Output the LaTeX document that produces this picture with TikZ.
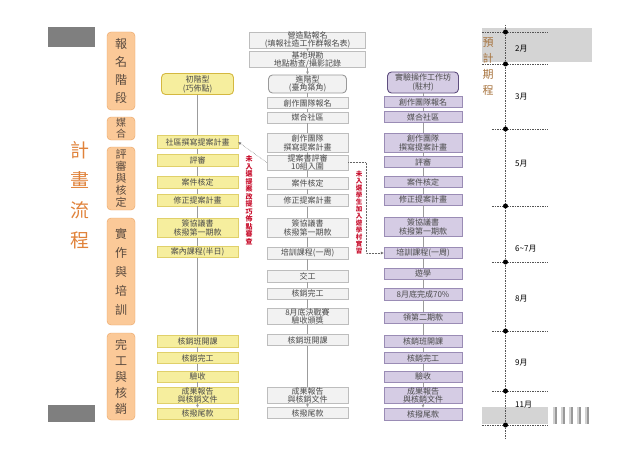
\documentclass[tikz,border=0pt]{standalone}
\usepackage{fontspec}
\setmainfont{Noto Sans CJK TC}
\usepackage{xcolor}
\usepackage{tikz}
\usetikzlibrary{arrows.meta}
\definecolor{ylwfill}{HTML}{F6EE9E}
\definecolor{ylwedge}{HTML}{E0D06A}
\definecolor{ylwhead}{HTML}{D4B840}
\definecolor{gryfill}{HTML}{F2F2F2}
\definecolor{gryedge}{HTML}{BDBDBD}
\definecolor{gryhead}{HTML}{9A9A9A}
\definecolor{prpfill}{HTML}{D5CCE4}
\definecolor{prpedge}{HTML}{9A8CB5}
\definecolor{prphead}{HTML}{5E4E7E}
\definecolor{stgfill}{HTML}{FBC998}
\definecolor{stgedge}{HTML}{E9A262}
\definecolor{stagetext}{HTML}{5A4A3E}
\definecolor{flowtitle}{HTML}{E0823A}
\definecolor{plantitle}{HTML}{A6723C}
\definecolor{boxtext}{HTML}{4A4A4A}
\definecolor{redtext}{HTML}{C8102E}
\definecolor{linkgray}{HTML}{9C9C9C}
\definecolor{bandgray}{HTML}{D4D4D4}
\definecolor{blockgray}{HTML}{7F7F7F}
\definecolor{timegray}{HTML}{555555}

\begin{document}
\begin{tikzpicture}[x=1pt, y=-1pt,
  ybox/.style={draw=ylwedge, fill=ylwfill, minimum width=81pt, minimum height=12pt, inner sep=0pt, align=center, text=boxtext, font=\fontsize{8}{9}\selectfont},
  gbox/.style={ybox, draw=gryedge, fill=gryfill},
  pbox/.style={ybox, draw=prpedge, fill=prpfill, minimum width=78pt},
  twoline/.style={minimum height=19pt},
  headbox/.style={rounded corners=4pt, line width=0.9pt, minimum height=21pt},
  stage/.style={draw=stgedge, fill=stgfill, rounded corners=4pt, minimum width=28pt, inner sep=0pt, align=center, text=stagetext},
  link/.style={draw=linkgray, line width=0.6pt},
  tip/.style={link, -{Latex[length=3pt, width=3pt]}},
  skip/.style={densely dotted, draw=black!60, line width=0.5pt, -{Latex[open, length=3pt, width=3pt]}},
  redtxt/.style={inner sep=0pt, align=center, text=redtext, font=\fontsize{7}{7.5}\selectfont\bfseries},
  tline/.style={draw=timegray, line width=0.7pt, dash pattern=on 1.5pt off 1pt},
  tdot/.style={circle, fill=black, inner sep=0pt, minimum size=5pt},
  month/.style={anchor=west, inner sep=0pt, font=\fontsize{8}{9}\selectfont}
]
  \useasboundingbox (0,0) rectangle (640,452);

  \fill[blockgray] (48,27) rectangle (95,47);
  \fill[blockgray] (48,405) rectangle (95,422);
  \fill[bandgray] (482,28) rectangle (592,62);
  \fill[bandgray] (482,407) rectangle (548,424);
  \foreach \i in {0,...,4} {
    \fill[black!18] (553+8*\i,407) rectangle (555+8*\i,424);
    \fill[black!40] (555+8*\i,407) rectangle (557+8*\i,424);
  }

  \coordinate (ttop) at (505.5,25);
  \coordinate (tbot) at (505.5,440);
  \draw[tline] (ttop) -- (tbot);
  \foreach \ty/\tx in {32/482,64/482,129/492,206/492,262/492,331/492,391/492,425/482} {
    \draw[tline] (\tx,\ty) -- (548,\ty);
    \node[tdot] at (505.5,\ty) {};
  }
  \node[month] (m2) at (515,49) {2月};
  \node[month] (m3) at (515,97) {3月};
  \node[month] (m5) at (515,164) {5月};
  \node[month] (m67) at (515,249) {6\textasciitilde 7月};
  \node[month] (m8) at (515,299) {8月};
  \node[month] (m9) at (515,363) {9月};
  \node[month] (m11) at (515,405) {11月};
  \node[align=center, inner sep=0pt, text=plantitle, font=\fontsize{11}{16}\selectfont] (plan) at (488,67) {預\\計\\期\\程};

  \node[align=center, inner sep=0pt, text=flowtitle, font=\fontsize{19}{30}\selectfont] (flow) at (80,195) {計\\畫\\流\\程};

  \node[stage, minimum height=78pt, font=\fontsize{12}{18}\selectfont] (sign) at (121,71) {報\\名\\階\\段};
  \node[stage, minimum height=23pt, font=\fontsize{10}{11}\selectfont] (match) at (121,128.5) {媒\\合};
  \node[stage, minimum height=63pt, font=\fontsize{11}{12}\selectfont] (review) at (121,178.5) {評\\審\\與\\核\\定};
  \node[stage, minimum height=107pt, font=\fontsize{12}{19}\selectfont] (train) at (121,271.5) {實\\作\\與\\培\\訓};
  \node[stage, minimum height=87pt, font=\fontsize{12}{16}\selectfont] (close) at (121,376.5) {完\\工\\與\\核\\銷};

  \node[ybox, headbox, draw=ylwhead, minimum width=72pt] (c1head) at (197.5,84) {初階型\\(巧佈點)};
  \node[ybox, minimum height=13pt] (c1write) at (197.5,142) {社區撰寫提案計畫};
  \node[ybox] (c1rev) at (197.5,160.5) {評審};
  \node[ybox] (c1ok) at (197.5,182.5) {案件核定};
  \node[ybox] (c1fix) at (197.5,200) {修正提案計畫};
  \node[ybox, twoline] (c1sign) at (197.5,228) {簽協議書\\核撥第一期款};
  \node[ybox, minimum height=11pt] (c1class) at (197.5,252) {案內課程(半日)};
  \node[ybox] (c1open) at (197.5,341) {核銷班開課};
  \node[ybox, minimum height=11pt] (c1done) at (197.5,358) {核銷完工};
  \node[ybox, minimum height=11pt] (c1check) at (197.5,376.5) {驗收};
  \node[ybox, minimum height=16pt, font=\fontsize{8}{8}\selectfont] (c1rep) at (197.5,395) {成果報告\\與核銷文件};
  \node[ybox, minimum height=11pt] (c1last) at (197.5,413.5) {核撥尾款};

  \node[gbox, minimum width=116pt, minimum height=16pt, font=\fontsize{8}{8}\selectfont] (c2apply) at (307.5,40) {營造點報名\\(填報社造工作群報名表)};
  \node[gbox, minimum width=116pt, minimum height=15pt, font=\fontsize{8}{8}\selectfont] (c2site) at (307.5,59.5) {基地現勘\\地點勘查/攝影記錄};
  \node[gbox, headbox, draw=gryhead, minimum width=78pt, minimum height=18pt, font=\fontsize{8}{8.5}\selectfont] (c2head) at (307.5,84) {進階型\\(臺角築角)};
  \node[gbox, minimum height=11pt] (c2team) at (307.5,103) {創作團隊報名};
  \node[gbox, minimum height=11pt] (c2match) at (307.5,117.5) {媒合社區};
  \node[gbox, twoline] (c2write) at (307.5,142.5) {創作團隊\\撰寫提案計畫};
  \node[gbox, minimum height=15pt, font=\fontsize{8}{8}\selectfont] (c2rev) at (307.5,162.5) {提案書評審\\10組入圍};
  \node[gbox] (c2ok) at (307.5,183) {案件核定};
  \node[gbox] (c2fix) at (307.5,200.5) {修正提案計畫};
  \node[gbox, twoline] (c2sign) at (307.5,227.5) {簽協議書\\核撥第一期款};
  \node[gbox] (c2train) at (307.5,253) {培訓課程(一周)};
  \node[gbox] (c2build) at (307.5,276) {交工};
  \node[gbox, minimum height=11pt] (c2done) at (307.5,293.5) {核銷完工};
  \node[gbox, minimum height=16pt, font=\fontsize{8}{8}\selectfont] (c2final) at (307.5,316) {8月底決戰賽\\驗收頒獎};
  \node[gbox, minimum height=11pt] (c2open) at (307.5,340) {核銷班開課};
  \node[gbox, minimum height=16pt, font=\fontsize{8}{8}\selectfont] (c2rep) at (307.5,395) {成果報告\\與核銷文件};
  \node[gbox, minimum height=11pt] (c2last) at (307.5,413) {核撥尾款};

  \node[pbox, headbox, draw=prphead, minimum width=71pt] (c3head) at (423,82.5) {實驗操作工作坊\\(駐村)};
  \node[pbox, minimum height=11pt] (c3team) at (423,102) {創作團隊報名};
  \node[pbox, minimum height=11pt] (c3match) at (423,117) {媒合社區};
  \node[pbox, twoline] (c3write) at (423,142.5) {創作團隊\\撰寫提案計畫};
  \node[pbox, minimum height=11pt] (c3rev) at (423,162) {評審};
  \node[pbox, minimum height=11pt] (c3ok) at (423,182) {案件核定};
  \node[pbox, minimum height=11pt] (c3fix) at (423,199.5) {修正提案計畫};
  \node[pbox, twoline] (c3sign) at (423,227) {簽協議書\\核撥第一期款};
  \node[pbox, minimum height=11pt] (c3train) at (423,253) {培訓課程(一周)};
  \node[pbox, minimum height=11pt] (c3tour) at (423,273.5) {遊學};
  \node[pbox] (c3half) at (423,294) {8月底完成70\%};
  \node[pbox, minimum height=11pt] (c3pay) at (423,317.5) {領第二期款};
  \node[pbox] (c3open) at (423,341) {核銷班開課};
  \node[pbox, minimum height=11pt] (c3done) at (423,358) {核銷完工};
  \node[pbox, minimum height=11pt] (c3check) at (423,376.5) {驗收};
  \node[pbox, minimum height=16pt, font=\fontsize{8}{8}\selectfont] (c3rep) at (423,395) {成果報告\\與核銷文件};
  \node[pbox, minimum height=12pt] (c3last) at (423,414) {核撥尾款};

  \node[redtxt] (drop1) at (249,200) {未\\入\\選\\提\\案\\改\\提\\巧\\佈\\點\\審\\查};
  \node[redtxt, font=\fontsize{6.5}{7}\selectfont\bfseries] (drop2) at (359,213) {未\\入\\選\\學\\生\\加\\入\\遊\\學\\村\\實\\習};

  \draw[link] (c1head) -- (c1write) -- (c1rev) -- (c1ok) -- (c1fix) -- (c1sign) -- (c1class) -- (c1open) -- (c1done) -- (c1check) -- (c1rep);
  \draw[tip] (c1rep) -- (c1last);

  \draw[tip] (c2apply) -- (c2site);
  \draw[tip] (c2site) -- (c2head);
  \draw[link] (c2head) -- (c2team) -- (c2match) -- (c2write) -- (c2rev) -- (c2ok) -- (c2fix) -- (c2sign) -- (c2train) -- (c2build) -- (c2done) -- (c2final) -- (c2open) -- (c2rep);
  \draw[tip] (c2rep) -- (c2last);

  \draw[link] (c3head) -- (c3team) -- (c3match) -- (c3write) -- (c3rev) -- (c3ok) -- (c3fix) -- (c3sign) -- (c3train) -- (c3tour) -- (c3half) -- (c3pay) -- (c3open) -- (c3done) -- (c3check) -- (c3rep);
  \draw[tip] (c3rep) -- (c3last);

  \draw[skip] (c2rev.west) -- (c1write.east);
  \draw[skip] (c2rev.east) -- ++(18,0) |- (c3train.west);
\end{tikzpicture}
\end{document}
